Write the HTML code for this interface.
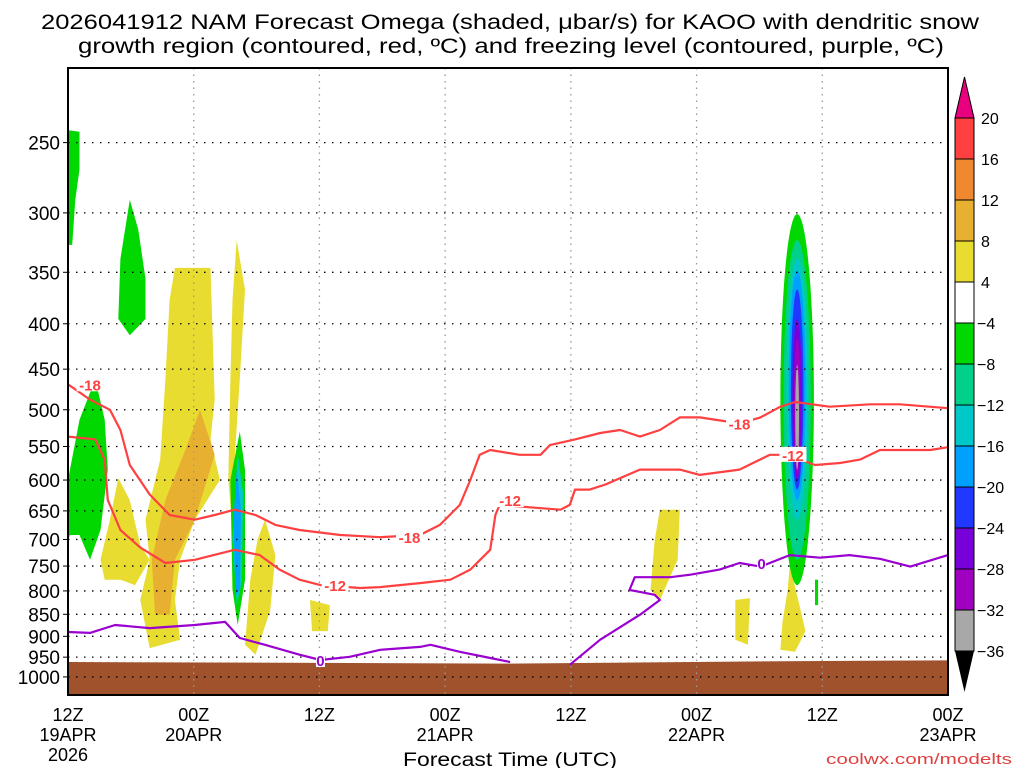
<!DOCTYPE html>
<html><head><meta charset="utf-8"><style>
body{margin:0;background:#fff;width:1024px;height:768px;overflow:hidden}
svg{display:block;font-family:"Liberation Sans","DejaVu Sans",sans-serif}
</style></head><body>
<svg id="c" width="1024" height="768" xmlns="http://www.w3.org/2000/svg">
<text x="510" y="29" text-anchor="middle" font-size="21" textLength="938" lengthAdjust="spacingAndGlyphs">2026041912 NAM Forecast Omega (shaded, μbar/s) for KAOO with dendritic snow</text>
<text x="511" y="53" text-anchor="middle" font-size="21" textLength="866" lengthAdjust="spacingAndGlyphs">growth region (contoured, red, ºC) and freezing level (contoured, purple, ºC)</text>
<text x="510" y="766" text-anchor="middle" font-size="19" textLength="214" lengthAdjust="spacingAndGlyphs">Forecast Time (UTC)</text>
<text x="1012" y="764" text-anchor="end" font-size="15" textLength="186" lengthAdjust="spacingAndGlyphs" fill="#e04040">coolwx.com/modelts</text>
</svg>
<script>
const pressureTicks=[250,300,350,400,450,500,550,600,650,700,750,800,850,900,950,1000];
const timeTicks=[0,12,24,36,48,60,72,84];
const timeLabels=[["12Z","19APR","2026"],["00Z","20APR"],["12Z"],["00Z","21APR"],["12Z"],["00Z","22APR"],["12Z"],["00Z","23APR"]];
const cbLevels=["20","16","12","8","4","-4","-8","-12","-16","-20","-24","-28","-32","-36"];
const cbColors=["#ff4040","#f08830","#e8b030","#e8dc30","#ffffff","#00d800","#00d08a","#00c8c8","#00a0ff","#2038ff","#7800d8","#a000c0","#a8a8a8"];
const red18=[[0,468],[2.1,487],[4,500],[5,527],[5.9,577],[7.8,623],[9.7,657],[12.1,665],[14,657],[15.9,648],[17.9,657],[19.8,674],[22.1,683],[26,692],[29.8,696],[33.6,692],[35.5,674],[37.4,640],[38.4,600],[39.3,562],[40.3,555],[43.1,562],[45.1,562],[46,548],[48.4,540],[50.8,531],[52.7,527],[54.6,536],[56.5,527],[58.4,510],[60.3,510],[64.1,518],[66.1,510],[68,496],[69.4,490],[72.7,496],[76.6,493],[79.4,493],[84,498]];
const red12=[[0,536],[2.6,540],[3.5,569],[3.8,632],[5,683],[6.9,715],[9.3,744],[12.1,738],[15.9,719],[18.3,729],[20.2,757],[22.1,777],[24.1,788],[27.9,794],[29.8,792],[33.6,784],[36.5,777],[38.4,757],[40.3,719],[40.8,657],[41.2,640],[44.1,644],[47,648],[47.9,640],[48.4,615],[49.8,615],[51.3,607],[52.7,597],[54.6,584],[58.4,584],[60.3,592],[64.1,584],[67,562],[68.9,562],[69.9,569],[71.3,577],[73.7,574],[75.6,569],[77.5,555],[82.3,555],[84,551]];
const purple1=[[0,890],[2.1,892],[4.5,874],[7.8,881],[12.1,874],[15,867],[16.4,904],[18.8,920],[22.1,944],[24.1,957],[26.9,949],[29.8,932],[33.6,925],[34.6,920],[37.4,937],[40.3,952],[42.2,962]];
const purple2=[[47.9,969],[50.8,908],[54.6,851],[56.5,819],[56,808],[54.6,802],[53.6,798],[54.1,772],[57.5,772],[59.4,767],[62.2,757],[64.1,744],[66.1,751],[68.9,729],[71.8,734],[74.6,729],[77.5,736],[80.4,751],[84,729]];
const contourLabels=[["-18",2.1,468,"#ff4040"],["-18",32.6,696,"#ff4040"],["-18",64.1,518,"#ff4040"],["-12",25.5,788,"#ff4040"],["-12",42.2,632,"#ff4040"],["-12",69.2,562,"#ff4040"],["0",24.1,957,"#9a00d0"],["0",66.2,744,"#9a00d0"]];
const blobs=[
 [5,[[0,242],[1.1,243],[1.1,268],[0.7,290],[0.4,326],[0,326]]],
 [5,[[5.9,290],[6.7,313],[7.4,356],[7.4,395],[5.9,412],[4.8,395],[5,338]]],
 [5,[[0,600],[1.1,513],[2.6,462],[3.5,513],[3.8,584],[3.1,683],[2.1,738],[1.1,692],[0.2,692],[0,700]]],
 [3,[[10.2,346],[13.6,346],[14,487],[13.6,540],[14.5,600],[12.1,665],[10.7,738],[10.2,819],[10.7,908],[7.8,928],[6.9,819],[7.8,738],[7.4,665],[8.8,569],[9.3,462],[9.7,376]]],
 [2,[[12.6,500],[14,562],[12.1,665],[10.2,738],[9.7,851],[8.3,851],[8,738],[9.3,632],[11.2,555]]],
 [3,[[16.1,322],[16.9,366],[16.4,462],[15.9,569],[15.7,683],[15.3,600],[15.5,462],[15.7,376]]],
 [5,[[16.4,529],[16.9,584],[16.9,777],[16.2,874],[15.7,798],[15.5,600]]],
 [7,[[16.2,560],[16.7,620],[16.6,780],[16.1,830],[15.7,700]]],
 [8,[[16.1,584],[16.5,648],[16.4,798],[16,808],[15.8,665]]],
 [3,[[4.8,597],[5.9,632],[6.9,711],[7.8,738],[6.4,788],[5,777],[3.5,777],[3.1,738],[4,665]]],
 [3,[[18.8,665],[19.8,729],[19.3,842],[17.9,944],[16.9,920],[17.4,777],[18.1,700]]],
 [3,[[23.1,819],[25,830],[24.8,888],[23.3,888]]],
 [3,[[56.5,648],[58.4,648],[58.2,738],[56.5,819],[55.6,798],[56,701]]],
 [3,[[63.7,819],[65.1,815],[64.9,920],[63.7,908]]],
 [3,[[68.9,749],[69.7,819],[70.4,888],[69.4,937],[68,932],[68.2,867],[68.7,798]]],
 [5,[[71.3,777],[71.6,777],[71.6,830],[71.3,830]]]
];
const columnHour=69.6;
const columnHalfWidths=[1.6,1.3,1.0,0.8,0.6,0.45,0.3,0.18];
const columnTops=[301,322,338,349,366,395,416,445];
const columnBottoms=[788,738,665,632,615,600,592,584];
const columnColors=[5,6,7,8,9,10,11,12];
const ground=[[0,962],[42,966],[68,960],[84,958]];

const NS="http://www.w3.org/2000/svg";
const svg=document.getElementById('c');
const X0=68,X1=948,Y0=68,Y1=695,PTOP=206,PBOT=1048;
const xs=h=>X0+(X1-X0)*h/84;
const ys=p=>Y0+(Y1-Y0)*Math.log(p/PTOP)/Math.log(PBOT/PTOP);
function mk(t,a,parent){const e=document.createElementNS(NS,t);for(const k in a)e.setAttribute(k,a[k]);(parent||svg).appendChild(e);return e;}
const pts=arr=>arr.map(d=>xs(d[0]).toFixed(1)+","+ys(d[1]).toFixed(1)).join(" ");

blobs.forEach((b,i)=>{
 const e=mk('polygon',{points:pts(b[1]),fill:cbColors[b[0]]});
 
 
});
columnHalfWidths.forEach((hw,i)=>{
 const cy=(ys(columnTops[i])+ys(columnBottoms[i]))/2, ry=(ys(columnBottoms[i])-ys(columnTops[i]))/2;
 const e=mk('ellipse',{cx:xs(columnHour),cy:cy,rx:xs(hw)-X0,ry:ry,fill:cbColors[columnColors[i]]});
 
 
});
{
 const g=ground.concat([[84,PBOT],[0,PBOT]]);
 const e=mk('polygon',{points:pts(g),fill:"#a0522d"});
 
 
}
pressureTicks.forEach(p=>{
 const e=mk('line',{x1:X0,x2:X1,y1:ys(p),y2:ys(p),stroke:"#000","stroke-width":1.3,"stroke-dasharray":"1.5,6.5"});
 
 
 const t=mk('text',{x:60,y:ys(p)+7,"text-anchor":"end","font-size":19});
 t.textContent=p;
 
 
 mk('line',{x1:X0-5,x2:X0,y1:ys(p),y2:ys(p),stroke:"#000"});
});
timeTicks.forEach((h,i)=>{
 const e=mk('line',{x1:xs(h),x2:xs(h),y1:Y0,y2:Y1,stroke:"#999","stroke-width":1.3,"stroke-dasharray":"1.5,5"});
 
 
 timeLabels[i].forEach((s,j)=>{
  const t=mk('text',{x:xs(h),y:721+j*20,"text-anchor":"middle","font-size":18});
  t.textContent=s;
  
  
 });
});
[[red18,"#ff4040","contour-minus18"],[red12,"#ff4040","contour-minus12"],[purple1,"#9a00d0","freezing-level-1"],[purple2,"#9a00d0","freezing-level-2"]].forEach(c=>{
 const e=mk('polyline',{points:pts(c[0]),fill:"none",stroke:c[1],"stroke-width":2.2,"stroke-linejoin":"round"});
 
 
});
contourLabels.forEach(l=>{
 const w=l[0].length*9;
 mk('rect',{x:xs(l[1])-w/2,y:ys(l[2])-8,width:w,height:15,fill:"#fff"});
 const t=mk('text',{x:xs(l[1]),y:ys(l[2])+6,"text-anchor":"middle","font-size":15,"font-weight":"bold",fill:l[3]});
 t.textContent=l[0];
 
 
});
{
 const e=mk('rect',{x:X0,y:Y0,width:X1-X0,height:Y1-Y0,fill:"none",stroke:"#000","stroke-width":2});
 
 
}
const CX=955,CW=19,CT=118,CS=41;
{
 const e=mk('polygon',{points:`${CX},${CT} ${CX+CW},${CT} ${CX+CW/2},77`,fill:"#e8007f",stroke:"#000"});
 
 
 const yb=CT+CS*cbColors.length;
 const f=mk('polygon',{points:`${CX},${yb} ${CX+CW},${yb} ${CX+CW/2},692`,fill:"#000"});
 
 
}
cbColors.forEach((c,i)=>{
 const e=mk('rect',{x:CX,y:CT+CS*i,width:CW,height:CS,fill:c,stroke:"#000"});
 
 
});
cbLevels.forEach((s,i)=>{
 const t=mk('text',{x:s[0]=="-"?CX+CW+3:CX+CW+7,y:CT+CS*i+6,"font-size":16});
 t.textContent=s.replace("-","−");
 
 
});
</script>
</body></html>
